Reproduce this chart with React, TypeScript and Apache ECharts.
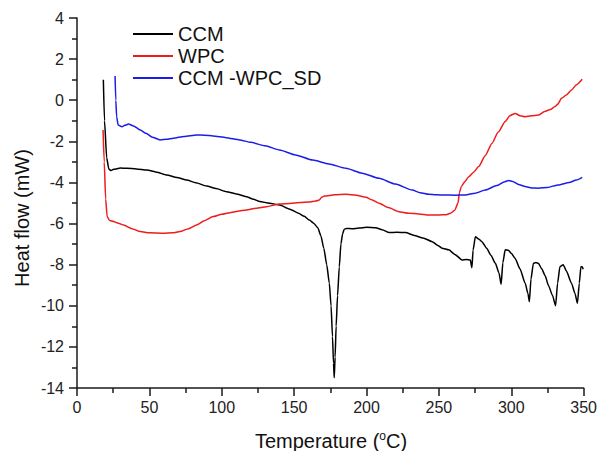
import React, { useEffect, useRef } from "react";
import * as echarts from "echarts";

const seriesNames = ["CCM", "WPC", "CCM -WPC_SD"];
const seriesColors = ["#000000", "#ee1c1c", "#1c1ce8"];

const xTicks = { min: 0, max: 350, interval: 50 };
const yTicks = { min: -14, max: 4, interval: 2 };

const ccmData: [number, number][] = [
  [18.2, 1.0], [19, -1.0], [20.5, -2.8], [22, -3.35], [23.5, -3.42], [25.3, -3.36], [30, -3.3], [34.5, -3.31],
  [41, -3.34], [48.3, -3.39], [55, -3.5], [62, -3.64], [69, -3.76], [75.8, -3.88], [82, -4.02], [89.5, -4.17],
  [96, -4.3], [103.3, -4.45], [110, -4.56], [117, -4.69], [122, -4.82], [126.2, -4.93], [133, -5.01], [140, -5.1],
  [147, -5.3], [153, -5.5], [157, -5.65], [160.5, -5.83], [163.5, -5.98], [166.3, -6.2], [168.5, -6.6], [170.5, -7.2],
  [172.5, -8.0], [174.3, -8.9], [175.5, -10.0], [176.5, -11.5], [177.2, -12.8], [177.7, -13.5], [178.3, -12.5],
  [179, -11.0], [180, -9.5], [181.2, -8.1], [182.3, -7.0], [183.5, -6.5], [184.6, -6.28], [186, -6.24], [190, -6.25],
  [195, -6.22], [200, -6.18], [206.4, -6.2], [210.8, -6.3], [215.6, -6.44], [221, -6.42], [227, -6.44], [233, -6.58],
  [239, -6.7], [245.4, -6.88], [249, -7.05], [252.2, -7.2], [256.8, -7.28], [261, -7.5], [266, -7.77], [269, -7.75],
  [271.7, -7.77], [272.8, -8.15], [273.6, -7.3], [275.2, -6.64], [277.5, -6.75], [279.7, -6.88], [283, -7.2],
  [286, -7.55], [289, -7.93], [291.5, -8.4], [293, -8.95], [294.2, -7.9], [295.8, -7.28], [298, -7.3], [300, -7.45],
  [302.7, -7.7], [306, -8.2], [309.6, -8.9], [311.5, -9.4], [312.5, -9.8], [313.6, -8.7], [315.3, -7.93], [317, -7.9],
  [318.7, -7.93], [321, -8.2], [323.5, -8.55], [325.6, -9.0], [328.5, -9.5], [330.6, -10.0], [332, -8.9], [333.6, -8.1],
  [335.9, -8.0], [338, -8.3], [341.6, -8.9], [344, -9.4], [345.7, -9.88], [347, -8.9], [348.1, -8.1], [349, -8.1],
  [349.7, -8.22],
];

const wpcData: [number, number][] = [
  [18, -1.45], [18.8, -3.0], [19.8, -4.8], [20.8, -5.66], [22.5, -5.85], [25.3, -5.9], [28.5, -5.98], [32.2, -6.07],
  [38, -6.25], [43.7, -6.39], [50, -6.45], [59.7, -6.47], [66, -6.45], [71.2, -6.39], [77, -6.25], [82.6, -6.07],
  [88, -5.86], [94, -5.66], [100, -5.55], [105.5, -5.47], [111, -5.4], [117, -5.34], [124, -5.25], [130.8, -5.18],
  [139.9, -5.05], [147, -5.02], [154, -4.98], [160, -4.95], [165, -4.9], [167.4, -4.85], [169, -4.72], [170.9, -4.66],
  [178, -4.6], [185.8, -4.58], [193, -4.62], [199.5, -4.72], [204, -4.85], [208.7, -5.01], [215, -5.22], [222.4, -5.42],
  [229, -5.5], [236.2, -5.53], [243, -5.58], [250, -5.58], [255, -5.57], [258, -5.5], [261, -5.35], [263.2, -5.0],
  [264.2, -4.5], [265.5, -4.2], [268, -3.95], [270.6, -3.72], [274, -3.5], [277.5, -3.23], [282, -2.7], [286.6, -2.1],
  [291, -1.55], [295.8, -1.04], [299, -0.75], [302.7, -0.64], [306, -0.75], [309.6, -0.8], [314, -0.76], [318.7, -0.72],
  [323, -0.55], [327, -0.45], [330.2, -0.31], [332, -0.2], [334.7, 0.09], [338, 0.25], [341.6, 0.5], [345, 0.75],
  [349, 1.02],
];

const sdData: [number, number][] = [
  [26.3, 1.18], [26.8, 0.0], [27.4, -0.8], [28.4, -1.2], [31, -1.29], [33, -1.22], [35.6, -1.16], [39, -1.25],
  [43.7, -1.45], [48, -1.62], [52, -1.8], [57.4, -1.93], [62, -1.9], [66.6, -1.85], [74, -1.76], [82.6, -1.69],
  [88, -1.7], [94, -1.74], [103, -1.82], [112.4, -1.93], [120, -2.05], [130, -2.22], [139.9, -2.42], [151, -2.66],
  [162.8, -2.91], [174, -3.1], [185.8, -3.31], [197, -3.55], [208.7, -3.8], [220, -4.08], [231.6, -4.37], [237, -4.5],
  [243, -4.58], [248, -4.6], [254.6, -4.61], [261, -4.62], [268.3, -4.61], [275, -4.52], [282.1, -4.37], [290, -4.15],
  [295, -3.98], [298.1, -3.91], [301, -3.95], [305, -4.1], [309.6, -4.2], [314, -4.27], [318.7, -4.28], [325, -4.24],
  [332.5, -4.12], [340, -4.0], [345, -3.88], [349, -3.75],
];

const FONT = "'Liberation Sans', Arial, sans-serif";

export default function App() {
  const ref = useRef<HTMLDivElement>(null);
  useEffect(() => {
    if (!ref.current) return;
    const chart = echarts.init(ref.current, null, { renderer: "svg" });
    const axisCommon = {
      axisLine: { show: true, onZero: false, lineStyle: { color: "#1a1a1a", width: 1.5 } },
      axisTick: { show: true, inside: false, length: 8, lineStyle: { color: "#1a1a1a", width: 1.5 } },
      minorTick: { show: true, splitNumber: 2, length: 5, lineStyle: { color: "#1a1a1a", width: 1.5 } },
      splitLine: { show: false },
      minorSplitLine: { show: false },
    };
    chart.setOption({
      animation: false,
      backgroundColor: "#ffffff",
      grid: { left: 77, right: 14, top: 18, bottom: 63 },
      legend: {
        orient: "vertical",
        left: 128,
        top: 19,
        itemGap: 2,
        itemWidth: 40,
        itemHeight: 2,
        icon: "rect",
        data: seriesNames,
        textStyle: { fontFamily: FONT, fontSize: 20, color: "#111" },
      },
      xAxis: {
        type: "value",
        min: xTicks.min,
        max: xTicks.max,
        interval: xTicks.interval,
        ...axisCommon,
        axisLabel: { fontFamily: FONT, fontSize: 16, color: "#222", margin: 11 },
      },
      yAxis: {
        type: "value",
        min: yTicks.min,
        max: yTicks.max,
        interval: yTicks.interval,
        ...axisCommon,
        axisLabel: { fontFamily: FONT, fontSize: 16, color: "#222", margin: 13 },
      },
      graphic: [
        {
          type: "text",
          x: 22,
          y: 218,
          rotation: Math.PI / 2,
          style: {
            text: "Heat flow (mW)",
            fontFamily: FONT,
            fontSize: 20,
            fill: "#111",
            align: "center",
            verticalAlign: "middle",
          },
        },
        {
          type: "text",
          x: 331,
          y: 441,
          style: {
            text: "{a|Temperature (}{s|o}{a|C)}",
            align: "center",
            verticalAlign: "middle",
            rich: {
              a: { fontFamily: FONT, fontSize: 20, fill: "#111" },
              s: { fontFamily: FONT, fontSize: 12, fill: "#111", padding: [0, 0, 10, 0] },
            },
          },
        },
      ],
      series: [ccmData, wpcData, sdData].map((d, i) => ({
        name: seriesNames[i],
        type: "line",
        data: d,
        showSymbol: false,
        symbol: "none",
        color: seriesColors[i],
        lineStyle: { color: seriesColors[i], width: 1.5 },
        smooth: 0.2,
        smoothMonotone: "x",
      })),
    });
    return () => chart.dispose();
  }, []);
  return <div ref={ref} style={{ position: "fixed", left: 0, top: 0, width: 600, height: 451 }} />;
}
